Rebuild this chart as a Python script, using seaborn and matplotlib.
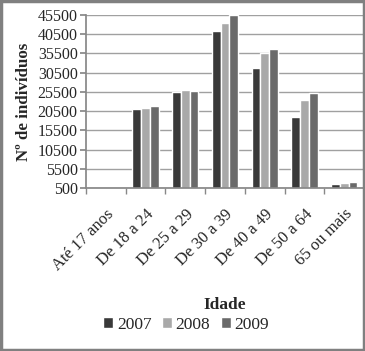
import pandas as pd
import seaborn as sns
import matplotlib.pyplot as plt
from matplotlib.patches import Rectangle

faixas = ['Até 17 anos', 'De 18 a 24', 'De 25 a 29', 'De 30 a 39',
          'De 40 a 49', 'De 50 a 64', '65 ou mais']
anos = ['2007', '2008', '2009']
v2007 = [0, 21000, 25500, 41300, 31700, 18900, 1600]
v2008 = [0, 21400, 26100, 43300, 35700, 23500, 1900]
v2009 = [0, 21800, 25800, 45600, 36700, 25100, 2100]
cores = ['#393939', '#a9a9a9', '#6a6a6a']

df = pd.DataFrame({'Idade': faixas * 3,
                   'Ano': [a for a in anos for _ in faixas],
                   'N': v2007 + v2008 + v2009})

sns.set_theme(style='white')
plt.rcParams['font.family'] = ['Liberation Serif', 'DejaVu Serif']

fig = plt.figure(figsize=(3.65, 3.51), dpi=100)
ax = fig.add_axes([86/365, 1 - 188/351, 278/365, 173/351])

sns.barplot(data=df, x='Idade', y='N', hue='Ano', palette=cores,
            width=0.66, saturation=1, ax=ax, legend=True)

ax.set_ylim(500, 45500)
ax.set_yticks(range(500, 45501, 5000))
ax.yaxis.grid(True, color='#a0a0a0', linewidth=1)
ax.set_axisbelow(True)
for s in ['top', 'right']:
    ax.spines[s].set_visible(False)
ax.spines['left'].set_color('#888888')
ax.spines['bottom'].set_color('#888888')
ax.tick_params(axis='y', labelsize=11.5, length=4, color='#888888', left=True, pad=2)
ax.tick_params(axis='x', labelsize=12, length=0, pad=13)
# ticks between the categories
ax.set_xticks([i - 0.5 for i in range(8)], minor=True)
ax.tick_params(axis='x', which='minor', length=4, color='#888888', bottom=True)
ax.set_xlim(-0.5, 6.5)
plt.setp(ax.get_xticklabels(), rotation=45, ha='right', rotation_mode='anchor')

ax.set_ylabel('Nº de indivíduos', fontsize=12.2, fontweight='bold', labelpad=4)
ax.set_xlabel('Idade', fontsize=12.5, fontweight='bold', labelpad=17)

ax.legend(ncol=3, loc='center', bbox_to_anchor=(0.36, -0.79),
          frameon=False, fontsize=12.5, handlelength=0.6, handleheight=0.6,
          handletextpad=0.2, columnspacing=0.6, borderaxespad=0)

fig.patches.append(Rectangle((0.004, 0.004), 0.992, 0.992, transform=fig.transFigure,
                             fill=False, edgecolor='#808080', linewidth=2.5))

fig.savefig('out.png', dpi=100)
